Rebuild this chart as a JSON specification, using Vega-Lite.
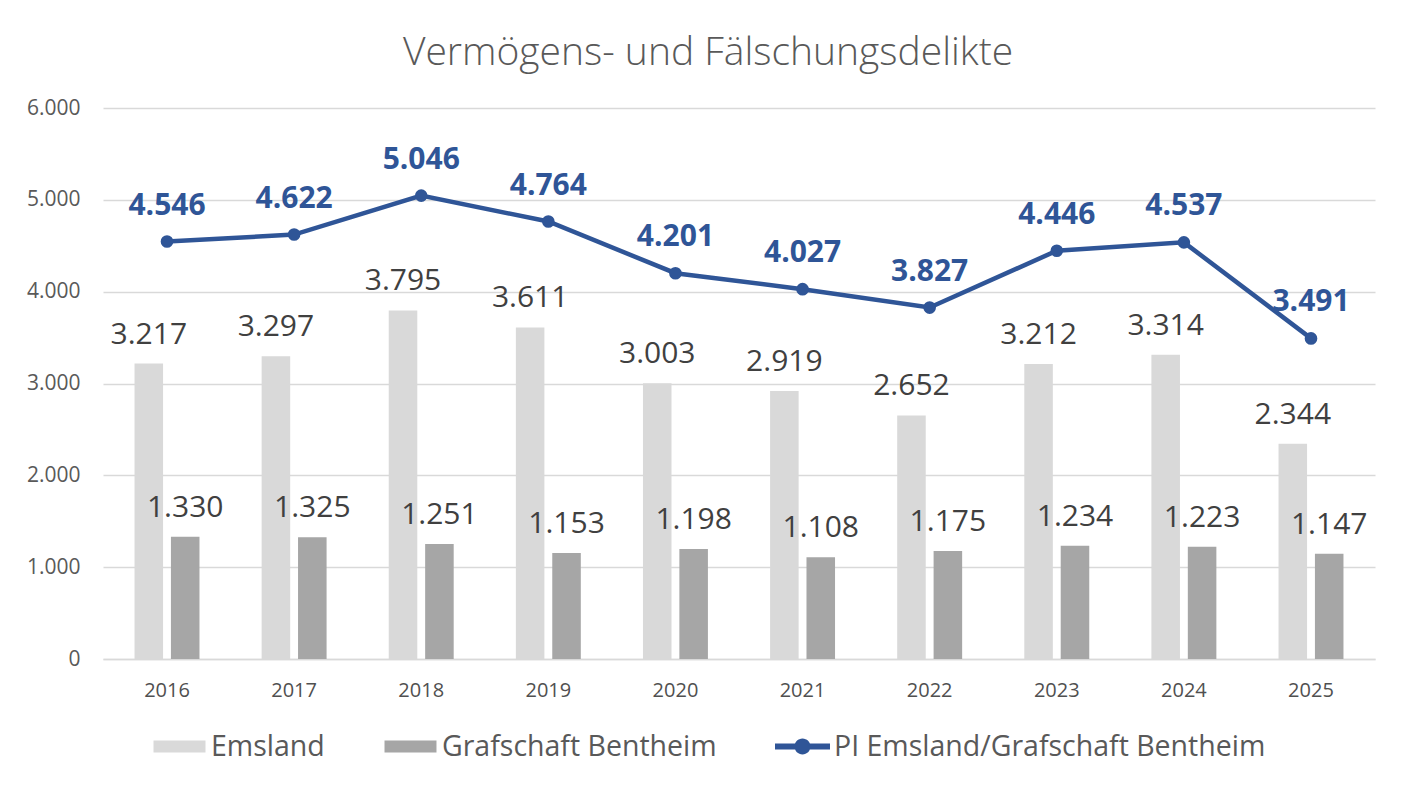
{
  "$schema": "https://vega.github.io/schema/vega-lite/v6.json",
  "width": 1272,
  "height": 551,
  "autosize": {"type": "none"},
  "padding": {"left": 103, "top": 108, "right": 35, "bottom": 126},
  "background": "white",
  "config": {
    "locale": {"number": {"decimal": ",", "thousands": ".", "grouping": [3], "currency": ["", " €"]}},
    "font": "Open Sans",
    "view": {"stroke": null}
  },
  "title": {
    "text": "Vermögens- und Fälschungsdelikte",
    "fontSize": 39,
    "font": "Open Sans",
    "fontWeight": 300,
    "color": "#595959",
    "anchor": "middle",
    "dx": -31,
    "offset": 24
  },
  "data": {
    "values": [
      {"year": "2016", "series": "Emsland", "value": 3217},
      {"year": "2017", "series": "Emsland", "value": 3297},
      {"year": "2018", "series": "Emsland", "value": 3795},
      {"year": "2019", "series": "Emsland", "value": 3611},
      {"year": "2020", "series": "Emsland", "value": 3003},
      {"year": "2021", "series": "Emsland", "value": 2919},
      {"year": "2022", "series": "Emsland", "value": 2652},
      {"year": "2023", "series": "Emsland", "value": 3212},
      {"year": "2024", "series": "Emsland", "value": 3314},
      {"year": "2025", "series": "Emsland", "value": 2344},
      {"year": "2016", "series": "Grafschaft Bentheim", "value": 1330},
      {"year": "2017", "series": "Grafschaft Bentheim", "value": 1325},
      {"year": "2018", "series": "Grafschaft Bentheim", "value": 1251},
      {"year": "2019", "series": "Grafschaft Bentheim", "value": 1153},
      {"year": "2020", "series": "Grafschaft Bentheim", "value": 1198},
      {"year": "2021", "series": "Grafschaft Bentheim", "value": 1108},
      {"year": "2022", "series": "Grafschaft Bentheim", "value": 1175},
      {"year": "2023", "series": "Grafschaft Bentheim", "value": 1234},
      {"year": "2024", "series": "Grafschaft Bentheim", "value": 1223},
      {"year": "2025", "series": "Grafschaft Bentheim", "value": 1147},
      {"year": "2016", "series": "PI Emsland/Grafschaft Bentheim", "value": 4546},
      {"year": "2017", "series": "PI Emsland/Grafschaft Bentheim", "value": 4622},
      {"year": "2018", "series": "PI Emsland/Grafschaft Bentheim", "value": 5046},
      {"year": "2019", "series": "PI Emsland/Grafschaft Bentheim", "value": 4764},
      {"year": "2020", "series": "PI Emsland/Grafschaft Bentheim", "value": 4201},
      {"year": "2021", "series": "PI Emsland/Grafschaft Bentheim", "value": 4027},
      {"year": "2022", "series": "PI Emsland/Grafschaft Bentheim", "value": 3827},
      {"year": "2023", "series": "PI Emsland/Grafschaft Bentheim", "value": 4446},
      {"year": "2024", "series": "PI Emsland/Grafschaft Bentheim", "value": 4537},
      {"year": "2025", "series": "PI Emsland/Grafschaft Bentheim", "value": 3491}
    ]
  },
  "encoding": {
    "x": {
      "field": "year",
      "type": "ordinal",
      "scale": {"type": "band", "paddingInner": 0.489, "paddingOuter": 0.248},
      "axis": {
        "title": null,
        "labelAngle": 0,
        "domainColor": "#d9d9d9",
        "domainWidth": 1.5,
        "ticks": false,
        "grid": false,
        "labelFontSize": 20,
        "labelFontWeight": 500,
        "labelColor": "#505050",
        "labelPadding": 21
      }
    },
    "y": {
      "field": "value",
      "type": "quantitative",
      "scale": {"domain": [0, 6000], "nice": false},
      "axis": {
        "title": null,
        "values": [0, 1000, 2000, 3000, 4000, 5000, 6000],
        "format": ",d",
        "grid": true,
        "gridColor": "#d9d9d9",
        "gridWidth": 1.5,
        "domain": false,
        "ticks": false,
        "labelFontSize": 21,
        "labelColor": "#595959",
        "labelPadding": 23
      }
    }
  },
  "layer": [
    {
      "transform": [{"filter": "datum.series !== 'PI Emsland/Grafschaft Bentheim'"}],
      "mark": {"type": "bar"},
      "encoding": {
        "xOffset": {
          "field": "series",
          "type": "nominal",
          "scale": {"domain": ["Emsland", "Grafschaft Bentheim"], "paddingInner": 0.216, "paddingOuter": 0}
        },
        "color": {
          "field": "series",
          "type": "nominal",
          "scale": {
            "domain": ["Emsland", "Grafschaft Bentheim", "PI Emsland/Grafschaft Bentheim"],
            "range": ["#d9d9d9", "#a6a6a6", "#2f5597"]
          },
          "legend": {
            "title": null,
            "orient": "none",
            "direction": "horizontal",
            "legendX": 49,
            "legendY": 611,
            "labelFontSize": 28.5,
            "labelFont": "Open Sans",
            "labelFontWeight": "normal",
            "labelColor": "#595959",
            "labelOffset": 4,
            "labelLimit": 0,
            "columnPadding": 58,
            "symbolSize": 3025,
            "symbolStrokeWidth": 0,
            "symbolOpacity": 1,
            "encode": {
              "symbols": {
                "update": {
                  "shape": {"signal": "datum.value === 'PI Emsland/Grafschaft Bentheim' ? 'M-1,-0.11H-0.265V0.11H-1Z M0.265,-0.11H1V0.11H0.265Z M0.29,0A0.29,0.29 0 1,1 -0.29,0A0.29,0.29 0 1,1 0.29,0Z' : 'M-0.945,-0.218H0.945V0.218H-0.945Z'"},
                  "fill": {"scale": "color", "field": "value"},
                  "stroke": {"value": "transparent"},
                  "opacity": {"value": 1}
                }
              }
            }
          }
        }
      }
    },
    {
      "transform": [{"filter": "datum.series !== 'PI Emsland/Grafschaft Bentheim'"}],
      "mark": {"type": "text", "fontSize": 30, "fontWeight": "normal", "color": "#404040", "baseline": "alphabetic", "align": "center", "dy": -20},
      "encoding": {
        "xOffset": {"field": "series", "type": "nominal"},
        "text": {"field": "value", "type": "quantitative", "format": ",d"}
      }
    },
    {
      "transform": [{"filter": "datum.series === 'PI Emsland/Grafschaft Bentheim'"}],
      "mark": {"type": "line", "strokeWidth": 4.5},
      "encoding": {
        "color": {"field": "series", "type": "nominal"}
      }
    },
    {
      "transform": [{"filter": "datum.series === 'PI Emsland/Grafschaft Bentheim'"}],
      "mark": {"type": "point", "filled": true, "size": 160, "opacity": 1, "color": "#2f5597"},
      "encoding": {}
    },
    {
      "transform": [{"filter": "datum.series === 'PI Emsland/Grafschaft Bentheim'"}],
      "mark": {"type": "text", "fontSize": 30, "fontWeight": "bold", "color": "#2f5597", "baseline": "alphabetic", "align": "center", "dy": -27},
      "encoding": {
        "text": {"field": "value", "type": "quantitative", "format": ",d"}
      }
    }
  ]
}
